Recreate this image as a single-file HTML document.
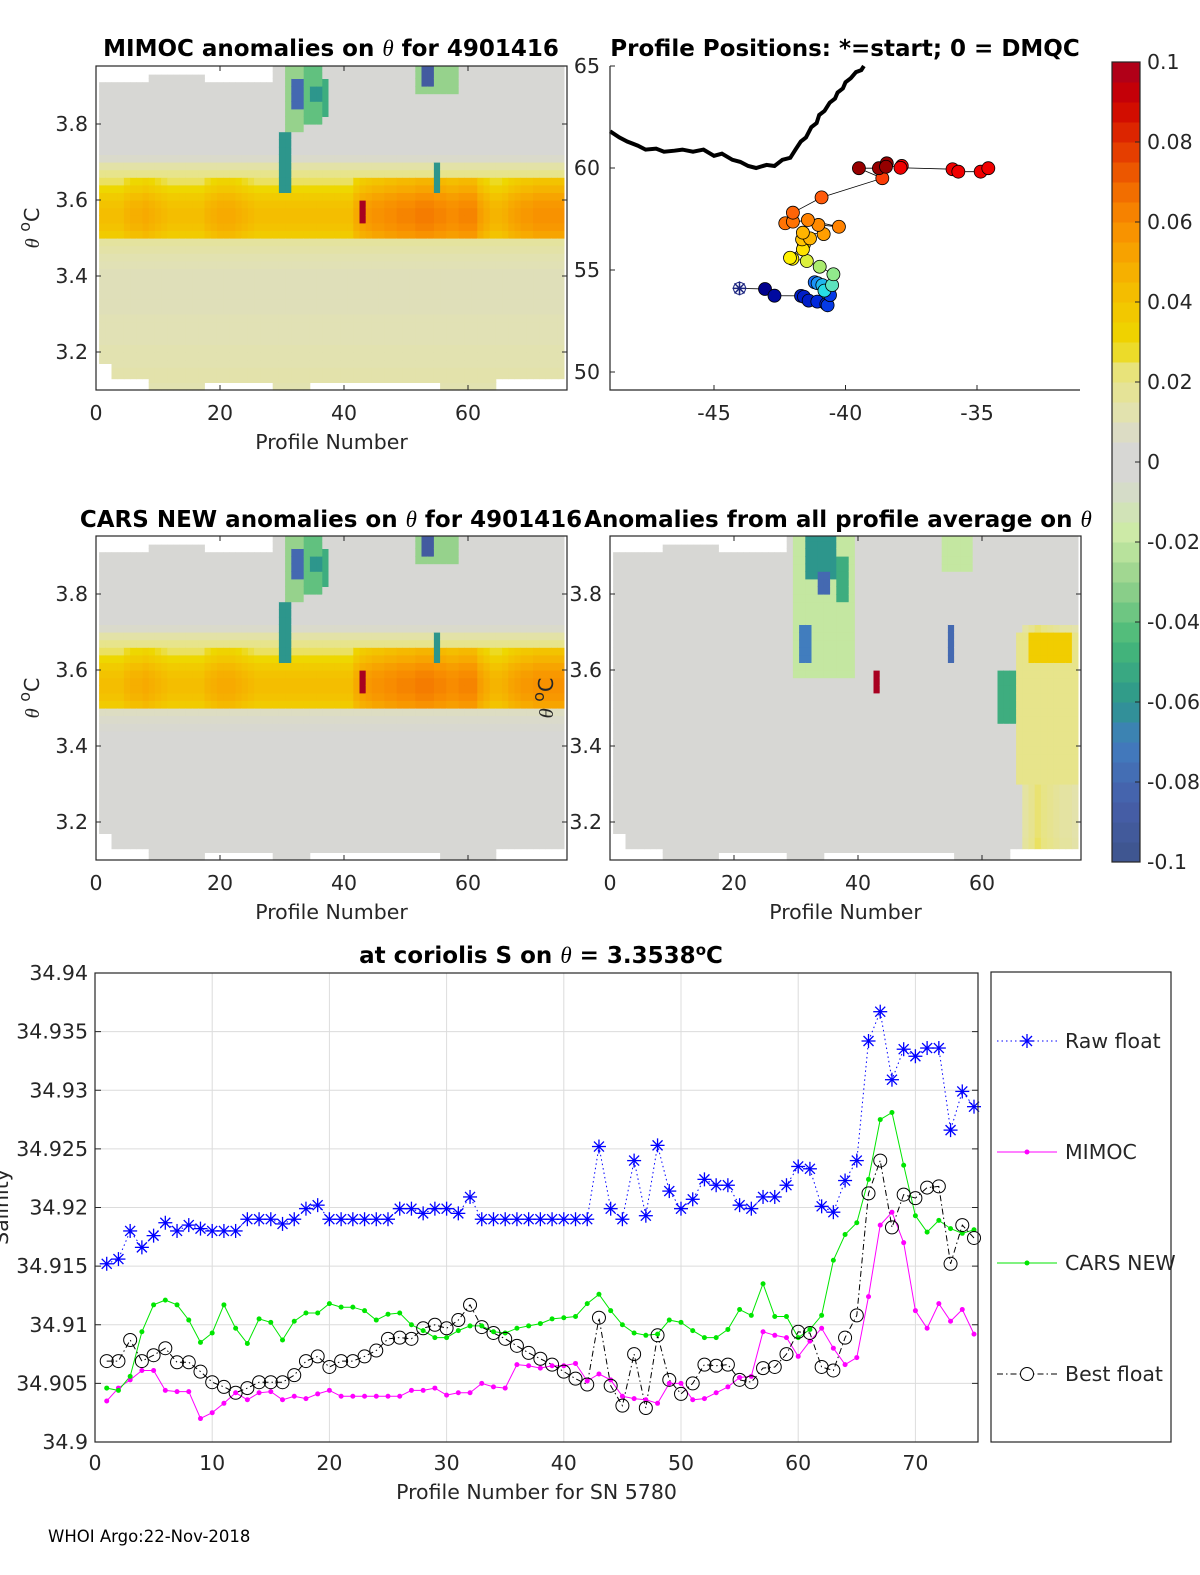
<!DOCTYPE html>
<html><head><meta charset="utf-8"><style>
body{margin:0;background:#fff}
svg{display:block;font-family:"DejaVu Sans","Liberation Sans",sans-serif}
.t{font-size:20.5px;fill:#262626}
.ti{font-size:23px;font-weight:bold;fill:#000}
</style></head><body>
<svg id="s" width="1200" height="1575" viewBox="0 0 1200 1575">
<g id="heatTL"></g>
<g id="heatML"></g>
<g id="heatMR"></g>
<g id="mapg"></g>
<g id="cbar"></g>
<g id="bottom"></g>
<text class="ti" x="331" y="56" text-anchor="middle">MIMOC anomalies on <tspan font-style="italic" font-weight="normal" font-family="Liberation Serif">θ</tspan>  for 4901416</text>
<text class="ti" x="845" y="56" text-anchor="middle">Profile Positions: *=start; 0 = DMQC</text>
<text class="ti" x="331" y="527" text-anchor="middle">CARS NEW anomalies on <tspan font-style="italic" font-weight="normal" font-family="Liberation Serif">θ</tspan> for 4901416</text>
<text class="ti" x="838" y="527" text-anchor="middle">Anomalies from all profile average on <tspan font-style="italic" font-weight="normal" font-family="Liberation Serif">θ</tspan></text>
<text class="ti" x="541" y="963" text-anchor="middle">at coriolis S on <tspan font-style="italic" font-weight="normal" font-family="Liberation Serif">θ</tspan> = 3.3538<tspan dy="-8" font-size="15">o</tspan><tspan dy="8">C</tspan></text>
<text x="48" y="1542" font-size="16.5" fill="#000">WHOI Argo:22-Nov-2018</text>
</svg>
<script>
// ---------- Bottom chart data ----------
const profiles = Array.from({length:75},(_,i)=>i+1);
const rawFloat = [34.9152,34.9156,34.918,34.9166,34.9176,34.9187,34.918,34.9185,34.9182,34.918,34.918,34.918,34.919,34.919,34.919,34.9186,34.919,34.9199,34.9202,34.919,34.919,34.919,34.919,34.919,34.919,34.9199,34.9199,34.9195,34.9199,34.9199,34.9195,34.9209,34.919,34.919,34.919,34.919,34.919,34.919,34.919,34.919,34.919,34.919,34.9252,34.9199,34.919,34.924,34.9193,34.9253,34.9214,34.9199,34.9207,34.9224,34.9219,34.9219,34.9202,34.9199,34.9209,34.9209,34.9219,34.9235,34.9233,34.9201,34.9196,34.9223,34.924,34.9342,34.9367,34.9309,34.9335,34.9329,34.9336,34.9336,34.9266,34.9299,34.9286];
const mimoc = [34.9035,34.9046,34.9053,34.9061,34.9061,34.9044,34.9043,34.9043,34.902,34.9025,34.9033,34.9042,34.9036,34.9042,34.9043,34.9036,34.9039,34.9037,34.9041,34.9044,34.9039,34.9039,34.9039,34.9039,34.9039,34.9039,34.9044,34.9044,34.9046,34.904,34.9042,34.9042,34.905,34.9047,34.9046,34.9066,34.9065,34.9063,34.9065,34.9065,34.9067,34.9052,34.9058,34.9053,34.9039,34.9037,34.9036,34.9033,34.905,34.905,34.9036,34.9037,34.9042,34.9047,34.9055,34.9056,34.9094,34.9091,34.9089,34.9073,34.9086,34.9097,34.908,34.9066,34.9072,34.9124,34.9185,34.9196,34.917,34.9112,34.9097,34.9118,34.9103,34.9113,34.9092];
const carsNew = [34.9046,34.9044,34.9056,34.9094,34.9117,34.9121,34.9117,34.9104,34.9085,34.9093,34.9117,34.9097,34.9084,34.9105,34.9102,34.9087,34.9103,34.911,34.911,34.9118,34.9115,34.9115,34.9112,34.9104,34.9109,34.911,34.91,34.9095,34.9089,34.9089,34.9095,34.9099,34.9099,34.9094,34.9093,34.9097,34.9099,34.9101,34.9105,34.9106,34.9107,34.9118,34.9126,34.9112,34.91,34.9093,34.9091,34.9092,34.9104,34.9102,34.9095,34.9089,34.9089,34.9096,34.9113,34.9108,34.9135,34.9107,34.9107,34.9089,34.9096,34.9108,34.9155,34.9177,34.9187,34.9224,34.9275,34.9281,34.9236,34.9193,34.9179,34.9189,34.9182,34.9178,34.9181];
const bestFloat = [34.9069,34.9069,34.9087,34.9069,34.9074,34.908,34.9068,34.9068,34.906,34.9051,34.9047,34.9042,34.9046,34.9051,34.9051,34.9051,34.9057,34.9069,34.9073,34.9064,34.9069,34.9069,34.9073,34.9078,34.9088,34.9089,34.9088,34.9097,34.91,34.9097,34.9104,34.9117,34.9098,34.9093,34.9088,34.9082,34.9076,34.9071,34.9066,34.906,34.9054,34.9049,34.9106,34.9048,34.9031,34.9075,34.9029,34.9091,34.9053,34.9041,34.905,34.9066,34.9065,34.9066,34.9053,34.9051,34.9063,34.9064,34.9075,34.9094,34.9093,34.9064,34.9061,34.9089,34.9108,34.9212,34.924,34.9183,34.9211,34.9208,34.9217,34.9218,34.9152,34.9185,34.9174];
const salTicks = [34.9,34.905,34.91,34.915,34.92,34.925,34.93,34.935,34.94];
const salTickLabels = ["34.9","34.905","34.91","34.915","34.92","34.925","34.93","34.935","34.94"];
const profTicks = [0,10,20,30,40,50,60,70];

// ---------- Heatmap data (theta rows 3.10..3.94 step 0.02; profiles 1..75) ----------
const thetaRows = Array.from({length:43},(_,i)=>+(3.10+0.02*i).toFixed(2));
const mimocRowBase = [0.012,0.013,0.013,0.012,0.012,0.012,0.011,0.011,0.011,0.011,0.010,0.010,0.010,0.010,0.010,0.010,0.011,0.012,0.014,0.016,0.036,0.040,0.042,0.042,0.040,0.036,0.030,0.024,0.020,0.014,0.006,0.004,0.003,0.003,0.003,0.003,0.003,0.003,0.003,0.003,0.003,0.003,0.003];
const carsRowBase = [0.004,0.004,0.004,0.004,0.004,0.004,0.004,0.004,0.004,0.004,0.004,0.004,0.004,0.004,0.004,0.004,0.004,0.005,0.006,0.008,0.036,0.040,0.042,0.042,0.040,0.036,0.030,0.024,0.020,0.014,0.006,0.004,0.003,0.003,0.003,0.003,0.003,0.003,0.003,0.003,0.003,0.003,0.003];
const avgRowBase = [0.004,0.004,0.004,0.003,0.003,0.003,0.003,0.003,0.003,0.003,0.003,0.003,0.003,0.003,0.003,0.003,0.003,0.003,0.003,0.003,0.003,0.003,0.003,0.003,0.003,0.003,0.003,0.004,0.004,0.004,0.003,0.003,0.003,0.003,0.003,0.003,0.003,0.003,0.003,0.003,0.003,0.003,0.003];
const bandBoost = [0,0,0,0,0.004,0.006,0.006,0.008,0.006,0.004,0.002,0,0,0,0,0,0,0.004,0.006,0.008,0.008,0.008,0.006,0.004,0.002,0,0,0,0,0,0,0,0,0,0,0,0,0,0,0,0,0.008,0.012,0.014,0.016,0.016,0.018,0.018,0.02,0.02,0.02,0.022,0.022,0.022,0.02,0.02,0.018,0.018,0.02,0.02,0.02,0.012,0.008,0.004,0.004,0.006,0.01,0.012,0.014,0.014,0.016,0.016,0.016,0.016,0.016];
const avgColBoost = [0,0,0,0,0,0,0,0,0,0,0,0,0,0,0,0,0,0,0,0,0,0,0,0,0,0,0,0,0,0,0,0,0,0,0,0,0,0,0,0,0,0,0,0,0,0,0,0,0,0,0,0,0,0,0,0,0,0,0,0,0,0,0,0,0,0,0.012,0.016,0.02,0.018,0.016,0.014,0.012,0.012,0.01];
// patches: [profileFrom, profileTo, thetaFrom, thetaTo, value]
const topPatches = [[30,31,3.62,3.78,-0.06],[31,33,3.78,3.95,-0.03],[32,33,3.84,3.92,-0.08],[34,36,3.80,3.95,-0.04],[35,36,3.86,3.90,-0.06],[37,37,3.82,3.92,-0.05],[52,58,3.88,3.95,-0.03],[53,54,3.90,3.95,-0.09],[55,55,3.62,3.70,-0.06],[43,43,3.54,3.60,0.1]];
const avgPatches = [[30,39,3.58,3.95,-0.02],[31,32,3.62,3.72,-0.07],[32,36,3.84,3.95,-0.06],[34,35,3.80,3.86,-0.08],[37,38,3.78,3.90,-0.05],[54,58,3.86,3.95,-0.02],[55,55,3.62,3.72,-0.08],[63,66,3.46,3.60,-0.05],[43,43,3.54,3.60,0.1],[66,75,3.30,3.70,0.02],[68,74,3.62,3.70,0.035]];
const colTop = [[1,8,3.91],[9,17,3.93],[18,28,3.91],[29,75,3.953]];
const colBottom = [[1,2,3.17],[3,8,3.13],[9,17,3.10],[18,28,3.12],[29,34,3.10],[35,55,3.12],[56,64,3.10],[65,75,3.13]];

// ---------- Map data ----------
const lon = [-44.03,-43.06,-42.70,-41.69,-41.58,-41.40,-41.07,-40.73,-40.68,-40.59,-41.17,-41.06,-40.88,-40.80,-40.51,-40.46,-40.98,-41.47,-42.02,-42.11,-41.58,-41.62,-41.65,-41.35,-41.62,-40.83,-41.03,-40.25,-41.43,-42.29,-42.0,-42.0,-40.91,-38.60,-39.49,-38.73,-38.43,-38.46,-37.86,-37.91,-35.93,-35.71,-34.86,-34.57];
const lat = [54.10,54.07,53.74,53.73,53.69,53.50,53.45,53.33,53.27,53.77,54.40,54.35,54.26,53.99,54.26,54.79,55.16,55.44,55.55,55.60,56.26,56.01,56.50,56.55,56.83,56.76,57.21,57.12,57.45,57.29,57.37,57.81,58.56,59.50,59.99,59.99,60.23,60.06,60.10,60.01,59.94,59.82,59.82,59.99];
const pointAnom = [-0.1,-0.1,-0.095,-0.085,-0.085,-0.085,-0.08,-0.08,-0.075,-0.075,-0.06,-0.055,-0.05,-0.045,-0.035,-0.02,-0.01,0.02,0.03,0.03,0.035,0.035,0.045,0.05,0.05,0.055,0.06,0.062,0.062,0.065,0.065,0.068,0.07,0.075,0.1,0.1,0.1,0.1,0.085,0.085,0.085,0.085,0.085,0.085];
const coastLon = [-48.95,-48.6,-48.3,-47.9,-47.6,-47.2,-46.9,-46.5,-46.2,-45.8,-45.4,-45.0,-44.7,-44.3,-44.0,-43.7,-43.4,-43.0,-42.7,-42.4,-42.1,-41.9,-41.7,-41.5,-41.3,-41.1,-41.0,-40.8,-40.6,-40.4,-40.3,-40.1,-40.0,-39.8,-39.6,-39.4,-39.3];
const coastLat = [61.8,61.5,61.3,61.1,60.9,60.95,60.8,60.85,60.9,60.8,60.9,60.6,60.7,60.4,60.3,60.1,60.0,60.15,60.1,60.4,60.5,60.9,61.3,61.5,62.0,62.2,62.6,62.8,63.2,63.4,63.7,63.9,64.2,64.4,64.7,64.8,65.0];

const NS='http://www.w3.org/2000/svg';
function el(tag,attrs,parent){const e=document.createElementNS(NS,tag);for(const k in attrs)e.setAttribute(k,attrs[k]);(parent||document.getElementById('s')).appendChild(e);return e;}
function txt(str,attrs,parent){const e=el('text',attrs,parent);e.textContent=str;return e;}

const cmapStops=[[-0.1,[62,84,140]],[-0.085,[70,95,170]],[-0.07,[65,125,190]],[-0.06,[45,150,140]],[-0.045,[70,185,120]],[-0.03,[150,210,140]],[-0.018,[205,235,165]],[-0.004,[215,215,212]],[0.004,[215,215,212]],[0.012,[226,226,176]],[0.022,[232,228,130]],[0.03,[238,215,0]],[0.04,[243,195,0]],[0.05,[247,170,0]],[0.06,[248,140,0]],[0.07,[240,100,0]],[0.08,[225,50,0]],[0.09,[205,0,0]],[0.1,[168,0,32]]];
function cmap(v){v=Math.max(-0.1,Math.min(0.1,v));for(let i=1;i<cmapStops.length;i++){const a=cmapStops[i-1],b=cmapStops[i];if(v<=b[0]){const t=(v-a[0])/(b[0]-a[0]);const c=a[1].map((x,j)=>Math.round(x+(b[1][j]-x)*t));return `rgb(${c})`;}}return 'rgb(168,0,32)';}
function segVal(segs,c){for(const s of segs)if(c>=s[0]&&c<=s[1])return s[2];return segs[segs.length-1][2];}

function heatPanel(gid,x0,y0,rowBase,useBand,colBoost,patches){
  const g=document.getElementById(gid);
  const px=v=>x0+v*6.2, py=t=>y0+58+(3.8-t)*380;
  const W=471,H=324;
  el('rect',{x:x0,y:y0,width:W,height:H,fill:'#fff'},g);
  profiles.forEach((p,ci)=>{
    const top=segVal(colTop,p),bot=segVal(colBottom,p);
    thetaRows.forEach((th,ri)=>{
      if(th+0.02<bot+0.001||th>top)return;
      let v=rowBase[ri];
      if(useBand&&ri>=20&&ri<=27)v+=bandBoost[ci];
      if(colBoost&&th<3.72)v+=colBoost[ci];
      for(const pt of patches){if(p>=pt[0]&&p<=pt[1]&&th>=pt[2]-0.001&&th<pt[3])v=pt[4];}
      const ya=py(Math.min(th+0.02,top)),yb=py(Math.max(th,bot));
      const r=el('rect',{x:(px(p-0.5)).toFixed(1),y:ya.toFixed(1),width:6.6,height:(yb-ya+0.6).toFixed(1),fill:cmap(v)},g);
      
      
    });
  });
  el('rect',{x:x0,y:y0,width:W,height:H,fill:'none',stroke:'#262626','stroke-width':1.2},g);
  [0,20,40,60].forEach(v=>{el('line',{x1:px(v),x2:px(v),y1:y0+H,y2:y0+H-5,stroke:'#262626'},g);el('line',{x1:px(v),x2:px(v),y1:y0,y2:y0+5,stroke:'#262626'},g);
    txt(String(v),{x:px(v),y:y0+H+30,class:'t','text-anchor':'middle'},g);});
  [3.2,3.4,3.6,3.8].forEach(v=>{el('line',{x1:x0,x2:x0+5,y1:py(v),y2:py(v),stroke:'#262626'},g);el('line',{x1:x0+W,x2:x0+W-5,y1:py(v),y2:py(v),stroke:'#262626'},g);
    txt(v.toFixed(1),{x:x0-8,y:py(v)+7,class:'t','text-anchor':'end'},g);});
  txt('Profile Number',{x:x0+W/2,y:y0+H+59,class:'t','font-size':23,'text-anchor':'middle'},g);
  const yl=txt('',{x:0,y:0,class:'t','font-size':23,'text-anchor':'middle',transform:`translate(${x0-57},${y0+H/2}) rotate(-90)`},g);
  yl.innerHTML='<tspan font-style="italic" font-family="Liberation Serif">θ</tspan> <tspan dy="-9" font-size="16">o</tspan><tspan dy="9">C</tspan>';
}
heatPanel('heatTL',96,66,mimocRowBase,true,null,topPatches);
heatPanel('heatML',96,536,carsRowBase,true,null,topPatches);
heatPanel('heatMR',610,536,avgRowBase,false,avgColBoost,avgPatches);

function cmapJet(v){const s=[[-0.1,[0,0,140]],[-0.08,[0,40,220]],[-0.06,[20,110,255]],[-0.045,[40,220,230]],[-0.03,[120,230,170]],[-0.01,[170,235,110]],[0.02,[220,240,60]],[0.03,[255,240,0]],[0.05,[255,180,0]],[0.062,[255,130,0]],[0.07,[255,90,10]],[0.085,[240,0,0]],[0.1,[150,0,0]]];
  for(let i=1;i<s.length;i++){if(v<=s[i][0]){const a=s[i-1],b=s[i],t=(v-a[0])/(b[0]-a[0]);return 'rgb('+a[1].map((x,j)=>Math.round(x+(b[1][j]-x)*t))+')';}}return 'rgb(150,0,0)';}

(function(){
  const g=document.getElementById('mapg');
  const mx=v=>714+(v+45)*26.3, my=v=>66+(65-v)*20.4;
  el('rect',{x:610,y:66,width:470,height:324,fill:'#fff'},g);
  let d='';coastLon.forEach((v,i)=>{d+=(i?'L':'M')+mx(v).toFixed(1)+','+my(coastLat[i]).toFixed(1);});
  const c=el('path',{d,fill:'none',stroke:'#000','stroke-width':4,'stroke-linejoin':'miter'},g);
  
  let t='';lon.forEach((v,i)=>{t+=(i?'L':'M')+mx(v).toFixed(1)+','+my(lat[i]).toFixed(1);});
  el('path',{d:t,fill:'none',stroke:'#000','stroke-width':0.8},g);
  lon.forEach((v,i)=>{
    if(i===0){const s=el('g',{},g);
      el('circle',{cx:mx(v),cy:my(lat[i]),r:6,fill:'#fff',stroke:'#1a237e','stroke-width':1},s);
      [[0,7],[7,0],[5,5],[5,-5]].forEach(o=>el('line',{x1:mx(v)-o[0],y1:my(lat[i])-o[1],x2:mx(v)+o[0],y2:my(lat[i])+o[1],stroke:'#1a237e','stroke-width':1.5},s));return;}
    const p=el('circle',{cx:mx(v),cy:my(lat[i]),r:6.5,fill:cmapJet(pointAnom[i]),stroke:'#000','stroke-width':0.8},g);
    
  });
  el('path',{d:'M610,66V390H1080',fill:'none',stroke:'#262626','stroke-width':1.2},g);
  [-45,-40,-35].forEach(v=>{el('line',{x1:mx(v),x2:mx(v),y1:390,y2:385,stroke:'#262626'},g);txt(String(v),{x:mx(v),y:420,class:'t','text-anchor':'middle'},g);});
  [50,55,60,65].forEach(v=>{el('line',{x1:610,x2:615,y1:my(v),y2:my(v),stroke:'#262626'},g);txt(String(v),{x:600,y:my(v)+7,class:'t','text-anchor':'end'},g);});
})();

(function(){
  const g=document.getElementById('cbar');
  const N=40;for(let i=0;i<N;i++){const v=-0.1+(i+0.5)*0.2/N;const y=862-(i+1)*800/N;
    el('rect',{x:1112,y:y.toFixed(1),width:28,height:20.5,fill:cmap(v)},g);}
  el('rect',{x:1112,y:62,width:28,height:800,fill:'none',stroke:'#262626','stroke-width':1.2},g);
  const cbTicks=[-0.1,-0.08,-0.06,-0.04,-0.02,0,0.02,0.04,0.06,0.08,0.1];
  const cbLabels=['-0.1','-0.08','-0.06','-0.04','-0.02','0','0.02','0.04','0.06','0.08','0.1'];
  cbTicks.forEach((v,i)=>{const y=462-v*4000;el('line',{x1:1140,x2:1135,y1:y,y2:y,stroke:'#262626'},g);txt(cbLabels[i],{x:1147,y:y+7,class:'t','font-size':18},g);});
})();

(function(){
  const g=document.getElementById('bottom');
  const X0=95,X1=978,Y0=973,Y1=1442;
  const sx=v=>X0+v*11.72, sy=v=>Y0+(34.94-v)/0.04*(Y1-Y0);
  el('rect',{x:X0,y:Y0,width:X1-X0,height:Y1-Y0,fill:'#fff'},g);
  profTicks.forEach(v=>{if(v>0)el('line',{x1:sx(v),x2:sx(v),y1:Y0,y2:Y1,stroke:'#dcdcdc'},g);
    txt(String(v),{x:sx(v),y:Y1+28,class:'t','text-anchor':'middle'},g);});
  salTicks.forEach((v,i)=>{if(i>0&&i<8)el('line',{x1:X0,x2:X1,y1:sy(v),y2:sy(v),stroke:'#dcdcdc'},g);
    el('line',{x1:X0,x2:X0+6,y1:sy(v),y2:sy(v),stroke:'#262626'},g);el('line',{x1:X1,x2:X1-6,y1:sy(v),y2:sy(v),stroke:'#262626'},g);
    txt(salTickLabels[i],{x:X0-7,y:sy(v)+7,class:'t','text-anchor':'end'},g);});
  function line(arr,color,dash,w){let d='';arr.forEach((v,i)=>{d+=(i?'L':'M')+sx(profiles[i]).toFixed(1)+','+sy(v).toFixed(1);});return el('path',{d,fill:'none',stroke:color,'stroke-width':w||1,'stroke-dasharray':dash||'none'},g);}
  const l1=line(rawFloat,'#0000ff','1.5 3');
  const l2=line(mimoc,'#ff00ff');
  const l3=line(carsNew,'#00e600');
  const l4=line(bestFloat,'#000','6 3 1.5 3');
  function star(x,y,p){const s=el('g',{stroke:'#0000ff','stroke-width':1.3},p);[[0,7],[7,0],[5,5],[5,-5]].forEach(o=>el('line',{x1:x-o[0],y1:y-o[1],x2:x+o[0],y2:y+o[1]},s));return s;}
  rawFloat.forEach((v,i)=>{const m=star(sx(profiles[i]),sy(v),g);});
  mimoc.forEach((v,i)=>{const m=el('circle',{cx:sx(profiles[i]),cy:sy(v),r:2.5,fill:'#ff00ff'},g);});
  carsNew.forEach((v,i)=>{const m=el('circle',{cx:sx(profiles[i]),cy:sy(v),r:2.5,fill:'#00e600'},g);});
  bestFloat.forEach((v,i)=>{const m=el('circle',{cx:sx(profiles[i]),cy:sy(v),r:6.5,fill:'none',stroke:'#000','stroke-width':1},g);});
  el('rect',{x:X0,y:Y0,width:X1-X0,height:Y1-Y0,fill:'none',stroke:'#262626','stroke-width':1.2},g);
  txt('Profile Number for SN 5780',{x:(X0+X1)/2,y:1499,class:'t','font-size':23,'text-anchor':'middle'},g);
  txt('Salinity',{x:0,y:0,class:'t','font-size':23,'text-anchor':'middle',transform:'translate(8,1207) rotate(-90)'},g);
  const lg=el('g',{},g);
  el('rect',{x:991,y:972,width:180,height:470,fill:'#fff',stroke:'#262626','stroke-width':1.2},lg);
  const items=[['Raw float','#0000ff','1.5 3','star',1041],['MIMOC','#ff00ff','none','dot',1152],['CARS NEW','#00e600','none','dot',1263],['Best float','#000','6 3 1.5 3','circ',1374]];
  items.forEach(it=>{const e=el('g',{},lg);
    el('line',{x1:997,x2:1057,y1:it[4],y2:it[4],stroke:it[1],'stroke-dasharray':it[2]},e);
    if(it[3]==='star')star(1027,it[4],e);else if(it[3]==='dot')el('circle',{cx:1027,cy:it[4],r:2.5,fill:it[1]},e);else el('circle',{cx:1027,cy:it[4],r:6.5,fill:'#fff',stroke:'#000'},e);
    txt(it[0],{x:1065,y:it[4]+7,class:'t','font-size':18,fill:'#000'},e);});
})();
</script>
</body></html>
